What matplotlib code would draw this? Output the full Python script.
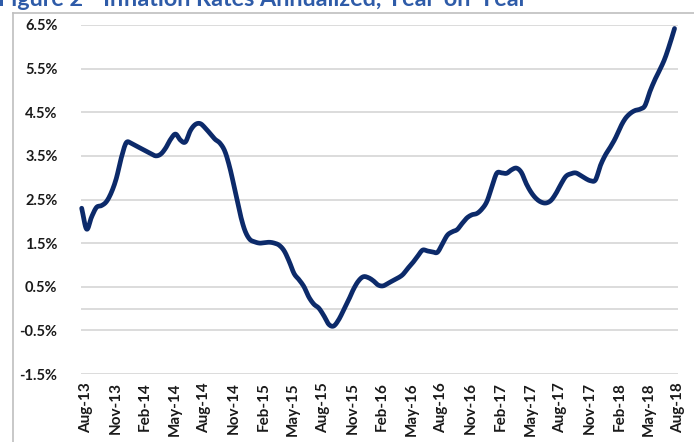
import matplotlib
matplotlib.use("Agg")
import matplotlib.pyplot as plt
import matplotlib.transforms as mtransforms
import numpy as np

# ---- data: inflation rate (%), semi-monthly readings from Aug-13 to Aug-18
rates = [
    2.30, 1.82, 2.10, 2.32, 2.36, 2.45, 2.66, 2.98, 3.45, 3.80,
    3.79, 3.73, 3.67, 3.61, 3.55, 3.50, 3.54, 3.68, 3.88, 4.00,
    3.86, 3.82, 4.08, 4.22, 4.24, 4.14, 4.01, 3.88, 3.79, 3.60,
    3.22, 2.72, 2.20, 1.80, 1.59, 1.53, 1.50, 1.51, 1.52, 1.50,
    1.45, 1.32, 1.08, 0.80, 0.66, 0.50, 0.26, 0.10, 0.01, -0.16,
    -0.36, -0.40, -0.26, -0.04, 0.19, 0.44, 0.63, 0.73, 0.71, 0.64,
    0.54, 0.52, 0.58, 0.64, 0.70, 0.78, 0.92, 1.05, 1.20, 1.34,
    1.32, 1.30, 1.29, 1.48, 1.68, 1.76, 1.81, 1.95, 2.08, 2.15,
    2.18, 2.28, 2.45, 2.78, 3.10, 3.11, 3.10, 3.18, 3.22, 3.12,
    2.86, 2.66, 2.52, 2.44, 2.42, 2.48, 2.64, 2.85, 3.03, 3.09,
    3.11, 3.05, 2.98, 2.93, 2.95, 3.28, 3.52, 3.70, 3.90, 4.15,
    4.35, 4.47, 4.54, 4.57, 4.65, 4.97, 5.24, 5.47, 5.72, 6.05,
    6.42,
]
tick_labels = ["Aug-13", "Nov-13", "Feb-14", "May-14", "Aug-14", "Nov-14",
               "Feb-15", "May-15", "Aug-15", "Nov-15", "Feb-16", "May-16",
               "Aug-16", "Nov-16", "Feb-17", "May-17", "Aug-17", "Nov-17",
               "Feb-18", "May-18", "Aug-18"]
y_ticks = [-1.5, -0.5, 0.5, 1.5, 2.5, 3.5, 4.5, 5.5, 6.5]
title = "Figure 2 - Inflation Rates Annualized, Year-on-Year"

months = np.arange(len(rates)) / 2.0
tick_pos = np.arange(len(tick_labels)) * 3


def smooth_line(x, y, n=8):
    """Catmull-Rom rendering through every data point (like a smoothed line)."""
    x = np.asarray(x, float)
    y = np.asarray(y, float)
    px = np.concatenate([[2 * x[0] - x[1]], x, [2 * x[-1] - x[-2]]])
    py = np.concatenate([[2 * y[0] - y[1]], y, [2 * y[-1] - y[-2]]])
    t = np.linspace(0, 1, n, endpoint=False)[:, None]
    out_x, out_y = [], []
    for arr, out in ((px, out_x), (py, out_y)):
        p0, p1, p2, p3 = arr[:-3], arr[1:-2], arr[2:-1], arr[3:]
        seg = 0.5 * ((2 * p1) + (-p0 + p2) * t + (2 * p0 - 5 * p1 + 4 * p2 - p3) * t ** 2
                     + (-p0 + 3 * p1 - 3 * p2 + p3) * t ** 3)
        out.append(np.concatenate([seg.T.ravel(), [arr[-2]]]))
    return out_x[0], out_y[0]


W, H = 694, 442
fig = plt.figure(figsize=(W / 100, H / 100), dpi=100)
fig.patch.set_facecolor("white")

font = ["Lato", "DejaVu Sans"]

ax = fig.add_axes([81.2 / W, (H - 374) / H, (678 - 81.2) / W, (374 - 25) / H])
ax.set_xlim(-0.05, 60.35)
ax.set_ylim(-1.5, 6.5)

for yv in y_ticks + [0.0]:
    ax.axhline(yv, color="#D9D9D9", lw=1.3, zorder=1)

sx, sy = smooth_line(months, rates)
ax.plot(sx, sy, color="#0C2A6A", lw=3.4, solid_joinstyle="round",
        solid_capstyle="round", zorder=3, clip_on=False)

for s in ax.spines.values():
    s.set_visible(False)

ax.set_yticks(y_ticks)
ax.set_yticklabels([f"{v:.1f}%" for v in y_ticks], fontsize=10.5,
                   fontweight="bold", family=font, color="#1a1a1a")
ax.set_xticks(tick_pos)
ax.set_xticklabels(tick_labels, rotation=90, fontsize=11, fontweight="bold",
                   family=font, color="#1a1a1a", va="top", ha="center")
ax.tick_params(axis="y", length=0, pad=17)
ax.tick_params(axis="x", length=0, pad=6)
offset = mtransforms.ScaledTranslation(4 / 100, 0, fig.dpi_scale_trans)
for lab in ax.get_xticklabels():
    lab.set_transform(lab.get_transform() + offset)

# chart area frame (left and top edges visible)
fig.add_artist(plt.Line2D([12.5 / W, 12.5 / W], [0, 1 - 12.5 / H],
                          transform=fig.transFigure, color="#BFBFBF", lw=1.2))
fig.add_artist(plt.Line2D([12.5 / W, 1], [1 - 12.5 / H, 1 - 12.5 / H],
                          transform=fig.transFigure, color="#BFBFBF", lw=1.2))

fig.text(-2 / W, 1 - 6.5 / H, title, fontsize=16.8, fontweight="bold",
         family=font, color="#2E5BA8", ha="left", va="baseline")

fig.savefig("out.png", dpi=100, facecolor="white")
